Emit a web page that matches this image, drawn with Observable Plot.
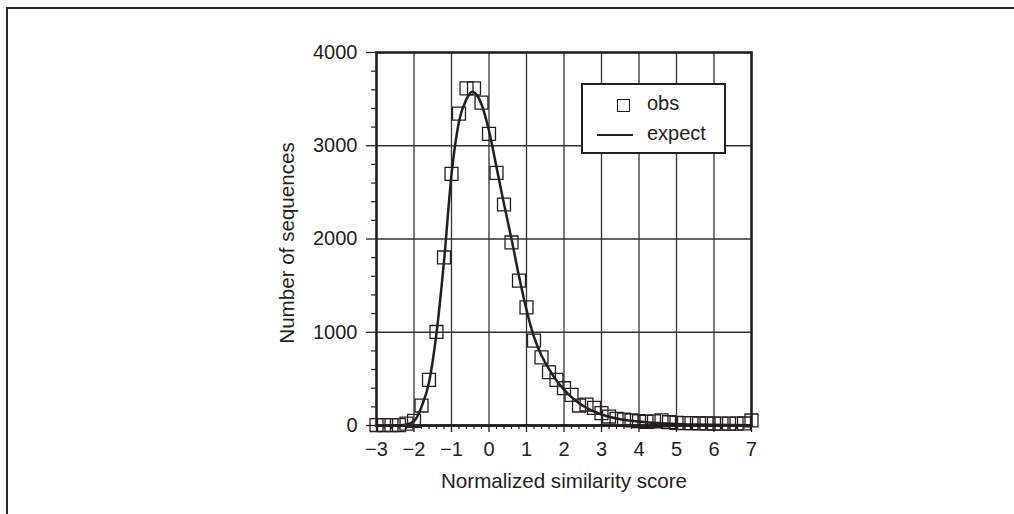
<!DOCTYPE html>
<html>
<head>
<meta charset="utf-8">
<script src="https://cdn.jsdelivr.net/npm/d3@7"></script>
<script src="https://cdn.jsdelivr.net/npm/@observablehq/plot@0.6"></script>
<style>
  html, body { margin: 0; padding: 0; background: #fff; }
  #wrap { position: relative; width: 1014px; height: 514px; overflow: hidden; font-family: "Liberation Sans", Arial, sans-serif; color: #231f20; }
  #pageframe { position: absolute; left: 6px; top: 7px; width: 1100px; height: 600px; border-top: 2px solid #2a2a2a; border-left: 2px solid #2a2a2a; }
  #legend { position: absolute; left: 581px; top: 83px; width: 141px; height: 67px; border: 2px solid #231f20; background: #fff; }
  #legend .sq { position: absolute; left: 34px; top: 14px; width: 13px; height: 13px; box-sizing: border-box; border: 1.3px solid #231f20; }
  #legend .ln { position: absolute; left: 14px; top: 49px; width: 36px; height: 2.4px; background: #231f20; }
  #legend .tx { position: absolute; left: 64px; font-size: 20px; line-height: 20px; white-space: nowrap; }
</style>
</head>
<body>
<div id="wrap">
  <div id="chart"></div>
  <div id="pageframe"></div>
  <div id="legend">
    <div class="sq"></div><div class="tx" style="top:8px">obs</div>
    <div class="ln"></div><div class="tx" style="top:38px">expect</div>
  </div>
</div>
<script>
// Observed counts (squares)
const obsX = [-3.0,-2.8,-2.6,-2.4,-2.2,-2.0,-1.8,-1.6,-1.4,-1.2,-1.0,-0.8,-0.6,-0.4,-0.2,0.0,0.2,0.4,0.6,0.8,
  1.0,1.2,1.4,1.6,1.8,2.0,2.2,2.4,2.6,2.8,3.0,3.2,3.4,3.6,3.8,4.0,4.2,4.4,4.6,4.8,
  5.0,5.2,5.4,5.6,5.8,6.0,6.2,6.4,6.6,6.8,7.0];
const obsY = [5,5,5,5,20,50,214,489,1003,1802,2699,3344,3616,3616,3462,3127,2709,2370,1963,1553,
  1267,910,731,571,489,400,328,214,225,189,132,96,71,64,54,46,40,45,55,35,
  28,25,25,22,22,20,20,20,20,22,54];

// Expected curve
const expX = [-3.0,-2.6,-2.4,-2.2,-2.0,-1.8,-1.6,-1.4,-1.2,-1.0,-0.8,-0.6,-0.45,-0.3,-0.2,0.0,0.2,0.4,0.6,0.8,
  1.0,1.2,1.4,1.6,1.8,2.0,2.2,2.4,2.6,2.8,3.0,3.4,3.8,4.2,4.6,5.0,5.5,6.0,7.0];
const expY = [0,0,2,10,45,200,460,990,1760,2690,3260,3500,3580,3530,3445,3160,2770,2375,2000,1600,
  1240,950,750,605,482,385,305,240,190,150,118,75,50,35,25,17,11,7,4];

// Axis ticks
const xTicks = [-3,-2,-1,0,1,2,3,4,5,6,7];
const xTickLabels = ["−3","−2","−1","0","1","2","3","4","5","6","7"];
const xGrid = [-2,-1,0,1,2,3,4,5,6];
const xMinor = d3.range(-3, 7.001, 0.2).map(v => Math.round(v * 10) / 10).filter(v => !Number.isInteger(v));
const yTicks = [0,1000,2000,3000,4000];
const yTickLabels = ["0","1000","2000","3000","4000"];
const yGrid = [1000,2000,3000];
const yMinor = [200,400,600,800,1200,1400,1600,1800,2200,2400,2600,2800,3200,3400,3600,3800];

const obs = obsX.map((x, i) => ({x, y: obsY[i]}));
const expect = expX.map((x, i) => ({x, y: expY[i]}));
const ink = "#231f20";

const chart = Plot.plot({
  width: 1014,
  height: 514,
  marginLeft: 376,
  marginRight: 263,
  marginTop: 52,
  marginBottom: 89,
  style: {fontFamily: "'Liberation Sans', Arial, sans-serif", fontSize: "20px", color: ink, background: "transparent"},
  x: {domain: [-3, 7]},
  y: {domain: [0, 4000]},
  marks: [
    Plot.ruleX(xGrid, {stroke: "#333", strokeWidth: 1.3}),
    Plot.ruleY(yGrid, {stroke: "#333", strokeWidth: 1.3}),
    Plot.axisY(yTicks, {tickSize: 10, tickPadding: 9, strokeWidth: 1.3, tickFormat: d => yTickLabels[yTicks.indexOf(d)], label: null}),
    Plot.axisY(yMinor, {tickSize: 5, strokeWidth: 1.2, tickFormat: () => "", label: null}),
    Plot.axisX(xTicks, {tickSize: 7, tickPadding: 9, strokeWidth: 1.3, tickFormat: d => xTickLabels[xTicks.indexOf(d)], label: null}),
    Plot.axisX(xMinor, {tickSize: 4, strokeWidth: 1.2, tickFormat: () => "", label: null}),
    Plot.frame({stroke: ink, strokeWidth: 2.6}),
    Plot.ruleY([0], {stroke: ink, strokeWidth: 2.6}),
    Plot.dot(obs, {x: "x", y: "y", symbol: "square", r: 7.3, fill: "none", stroke: ink, strokeWidth: 1.3}),
    Plot.line(expect, {x: "x", y: "y", curve: "monotone-x", stroke: ink, strokeWidth: 2.5}),
    Plot.text(["Normalized similarity score"], {frameAnchor: "bottom", dy: 56, textAnchor: "middle", lineAnchor: "middle", fontSize: 20.6, fill: ink}),
    Plot.text(["Number of sequences"], {frameAnchor: "left", dx: -89, dy: 4, rotate: -90, textAnchor: "middle", lineAnchor: "middle", fontSize: 20.6, fill: ink})
  ]
});
document.getElementById("chart").appendChild(chart);
</script>
</body>
</html>
